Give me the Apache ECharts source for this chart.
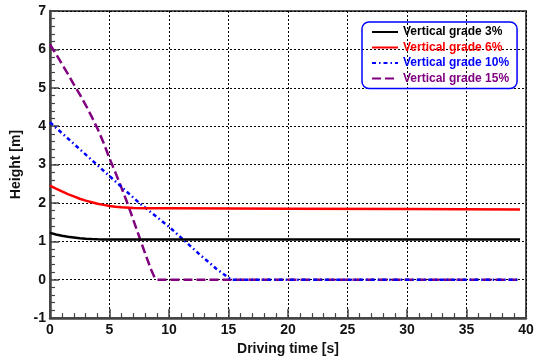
<!DOCTYPE html>
<html>
<head>
<meta charset="utf-8">
<script src="https://cdn.jsdelivr.net/npm/echarts@6/dist/echarts.min.js"></script>
<style>html,body{margin:0;padding:0;background:#fff;}#c{width:541px;height:361px;}</style>
</head>
<body>
<div id="c"></div>
<script>
var seriesNames = ['Vertical grade 3%', 'Vertical grade 6%', 'Vertical grade 10%', 'Vertical grade 15%'];
var xTicks = [0, 5, 10, 15, 20, 25, 30, 35, 40];
var yTicks = [-1, 0, 1, 2, 3, 4, 5, 6, 7];

var t3 = [0, 0.5, 1, 1.5, 2, 2.5, 3, 3.5, 4, 4.5, 5, 10, 20, 30, 39.5];
var h3 = [1.22, 1.18, 1.145, 1.12, 1.10, 1.08, 1.068, 1.058, 1.051, 1.047, 1.045, 1.045, 1.045, 1.045, 1.045];

var t6 = [0, 0.5, 1, 1.5, 2, 2.5, 3, 3.5, 4, 4.5, 5, 5.5, 6, 7, 8, 10, 20, 30, 39.5];
var h6 = [2.45, 2.37, 2.30, 2.23, 2.17, 2.11, 2.06, 2.02, 1.98, 1.95, 1.92, 1.90, 1.885, 1.87, 1.86, 1.86, 1.85, 1.84, 1.83];

var t10 = [0, 3.5, 5, 7.5, 10, 12.5, 14, 15, 15.3, 20, 30, 39.5];
var h10 = [4.1, 3.12, 2.7, 2.0, 1.38, 0.68, 0.28, 0.05, 0, 0, 0, 0];

var t15 = [0, 0.5, 1, 1.5, 2, 2.5, 3, 3.5, 4, 4.5, 5, 5.5, 6, 6.5, 7, 7.5, 8, 8.5, 8.8, 9.0, 20, 30, 39.5];
var h15 = [6.13, 5.88, 5.62, 5.36, 5.09, 4.83, 4.55, 4.25, 3.93, 3.57, 3.16, 2.79, 2.40, 2.0, 1.56, 1.12, 0.68, 0.26, 0.05, 0.0, 0, 0, 0];

function pairs(t, h) { return t.map(function (v, i) { return [v, h[i]]; }); }

var colors = ['#000000', '#ff0000', '#0000ff', '#800080'];
var dashes = ['solid', 'solid', [4, 3, 1.5, 3], [9, 4]];
var datas = [pairs(t3, h3), pairs(t6, h6), pairs(t10, h10), pairs(t15, h15)];

var font = 'Liberation Sans, Arial, sans-serif';
var chart = echarts.init(document.getElementById('c'));
chart.setOption({
  animation: false,
  grid: { left: 50, right: 15, top: 11, bottom: 41, show: true, borderColor: '#555', borderWidth: 2, containLabel: false },
  legend: {
    left: 362, top: 22,
    orient: 'vertical',
    backgroundColor: 'transparent',
    borderColor: '#0000ff', borderWidth: 1.5, borderRadius: 7,
    padding: [4, 8, 4, 9],
    itemWidth: 26, itemHeight: 12, itemGap: 3.5,
    itemStyle: { opacity: 0 },
    data: seriesNames.map(function (n, i) {
      return { name: n, textStyle: { color: colors[i] } };
    }),
    textStyle: { fontFamily: font, fontWeight: 'bold', fontSize: 12 }
  },
  xAxis: {
    type: 'value', min: 0, max: 40, interval: 5,
    name: 'Driving time [s]', nameLocation: 'middle', nameGap: 22,
    nameTextStyle: { fontFamily: font, fontWeight: 'bold', fontSize: 14, color: '#111' },
    axisLine: { show: true, onZero: false, lineStyle: { color: '#444', width: 2.5 } },
    axisTick: { show: true, inside: true, length: 9, lineStyle: { color: '#444', width: 1.5 } },
    minorTick: { show: true, splitNumber: 5, length: 5, lineStyle: { color: '#444', width: 1.2 } },
    axisLabel: { margin: 5, fontFamily: font, fontWeight: 'bold', fontSize: 14, color: '#111',
      formatter: function (v) { return xTicks.indexOf(v) >= 0 ? String(v) : ''; } },
    splitLine: { show: true, lineStyle: { color: '#000', type: [2, 2], width: 1 } }
  },
  yAxis: {
    type: 'value', min: -1, max: 7, interval: 1,
    name: 'Height [m]', nameLocation: 'middle', nameGap: 23,
    nameTextStyle: { fontFamily: font, fontWeight: 'bold', fontSize: 14, color: '#111' },
    axisLine: { show: true, onZero: false, lineStyle: { color: '#444', width: 2.5 } },
    axisTick: { show: true, inside: true, length: 9, lineStyle: { color: '#444', width: 1.5 } },
    minorTick: { show: true, splitNumber: 5, length: 5, lineStyle: { color: '#444', width: 1.2 } },
    axisLabel: { margin: 4, fontFamily: font, fontWeight: 'bold', fontSize: 14, color: '#111',
      formatter: function (v) { return yTicks.indexOf(v) >= 0 ? String(v) : ''; } },
    splitLine: { show: true, lineStyle: { color: '#000', type: [2, 2], width: 1 } }
  },
  series: seriesNames.map(function (n, i) {
    return {
      name: n, type: 'line', data: datas[i], showSymbol: false, symbol: 'none',
      lineStyle: { color: colors[i], width: 2.5, type: dashes[i] },
      itemStyle: { color: colors[i] },
      z: 10 - i
    };
  })
});
</script>
</body>
</html>
